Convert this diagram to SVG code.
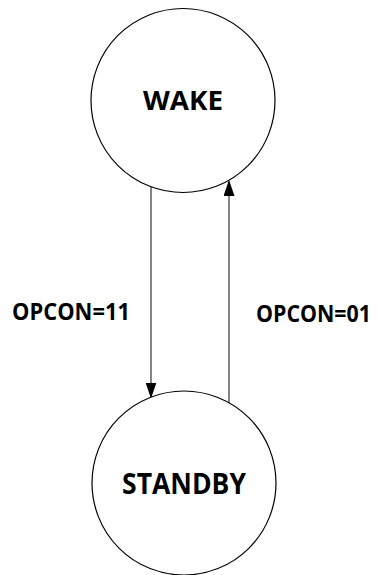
<svg xmlns="http://www.w3.org/2000/svg" width="379" height="575" viewBox="0 0 379 575">
<style>
.node{fill:#fff;stroke:#000;stroke-width:1.2}
.lbl{font-family:"Open Sans","Liberation Sans",sans-serif;font-weight:bold;fill:#000;text-anchor:middle}
.edge{stroke:#333;stroke-width:1.2;fill:none}
.elbl{font-family:"Open Sans","Liberation Sans",sans-serif;font-weight:bold;fill:#000;font-size:23px}
</style>
<defs>
<marker id="arr" markerWidth="16" markerHeight="11" refX="15" refY="5.5" orient="auto" markerUnits="userSpaceOnUse" viewBox="0 0 16 11">
<path d="M0,0 L16,5.5 L0,11 Z" fill="#000"/>
</marker>
</defs>
<rect width="379" height="575" fill="#fff"/>
<g id="edges">
<line class="edge" x1="151" y1="187" x2="151" y2="397.5" marker-end="url(#arr)"/>
<line class="edge" x1="229" y1="404" x2="229" y2="181" marker-end="url(#arr)"/>
<text class="elbl" x="12" y="320" textLength="118" lengthAdjust="spacingAndGlyphs">OPCON=11</text>
<text class="elbl" x="256" y="322" textLength="115" lengthAdjust="spacingAndGlyphs">OPCON=01</text>
</g>
<g id="wake">
<circle class="node" cx="183" cy="100.5" r="92"/>
<text class="lbl" x="183" y="110" font-size="26" textLength="80" lengthAdjust="spacingAndGlyphs">WAKE</text>
</g>
<g id="standby">
<circle class="node" cx="184" cy="483" r="92"/>
<text class="lbl" x="184" y="494" font-size="28" textLength="124" lengthAdjust="spacingAndGlyphs">STANDBY</text>
</g>
</svg>
